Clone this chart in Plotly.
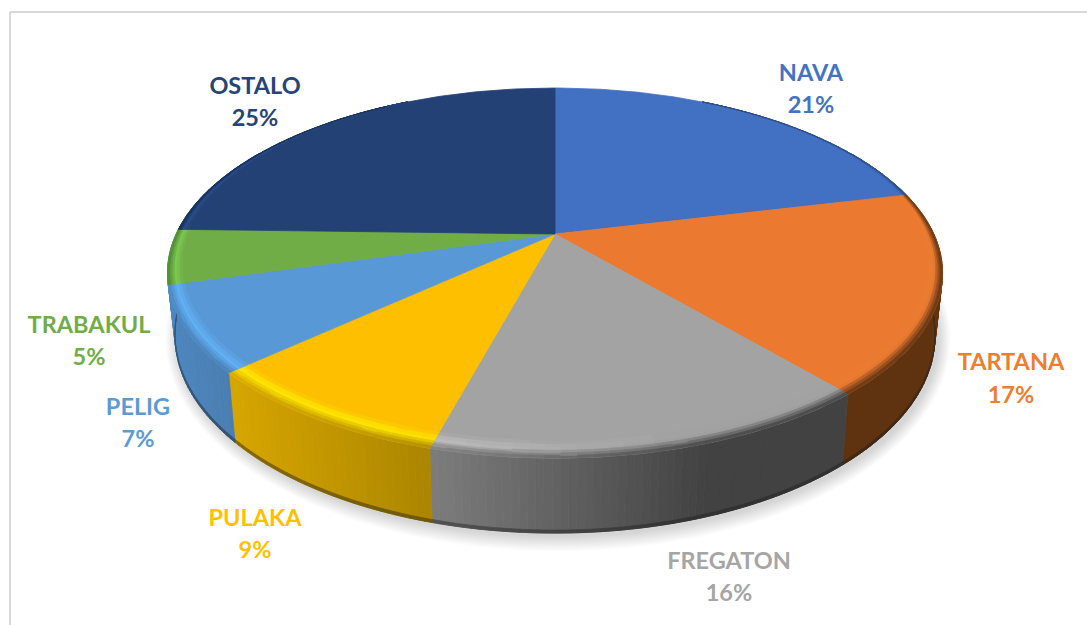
import math
import plotly.graph_objects as go

# ---- data ----
categories = ["NAVA", "TARTANA", "FREGATON", "PULAKA", "PELIG", "TRABAKUL", "OSTALO"]
shares = [21.3, 17.49, 15.5, 9.0, 7.4, 4.8, 24.6]

# ---- styles ----
top_colors = ["#4270c2", "#eb7a30", "#a3a3a3", "#fdbf00", "#5998d6", "#70ad47", "#234175"]
label_colors = ["#4472c4", "#ed7d31", "#a5a5a5", "#ffc000", "#5b9bd5", "#70ad47", "#264478"]
side_left = ["#2a4a80", "#5f3210", "#7c7c7c", "#d6a500", "#4c86be", "#4c86be", "#16305a"]
side_right = ["#2a4a80", "#5f3210", "#424242", "#ab8500", "#4a7db0", "#4c86be", "#16305a"]
rim_sides = {5: "#4f8630"}
highlights = ["#4a7ccf", "#f08a40", "#c4c4c4", "#ffe800", "#62b2f6", "#7ecb52", "#2a4d88"]
label_x = [811, 1011, 729, 255, 138, 89, 255]
name_y = [75, 364, 563, 520, 409, 327, 88]
pct_y = [107, 397, 595, 552, 441, 359, 120]

W, H = 1087, 625
CX, CY = 555, 234
K = 0.211
RX, RY = 378.8, 176.8
EX, EY, ERX, ERY = 555, 273, 387.5, 185     # outline ellipse of the upper face
BX, BY, BRX, BRY = 555, 336, 380, 197       # outline ellipse of the lower face


def proj(theta, s=1.0):
    u, v = s * math.sin(theta), s * math.cos(theta)
    w = 1 + K * v
    return CX + RX * u / w, CY - RY * v / w


def lower(p):
    return BX + (p[0] - EX) * BRX / ERX, BY + (p[1] - EY) * BRY / ERY


def rgb(h):
    return tuple(int(h[i:i + 2], 16) for i in (1, 3, 5))


def mix(a, b, t):
    t = max(0.0, min(1.0, t))
    return tuple(a[i] + (b[i] - a[i]) * t for i in range(3))


def css(c):
    return "#%02x%02x%02x" % tuple(min(255, int(round(x))) for x in c)


def side_color(i, x):
    t = (x - (EX - ERX)) / (2 * ERX * 0.78)
    if i == 3:
        t = (x - 232) / 200
    if i == 2:
        t = (x - 433) / 275
    if i == 4:
        t = (x - 172) / 64
    return mix(rgb(side_left[i]), rgb(side_right[i]), t)


fig = go.Figure()


def add_group(groups):
    for color, polys in groups.items():
        xs, ys = [], []
        for poly in polys:
            xs += [p[0] for p in poly] + [poly[0][0], None]
            ys += [p[1] for p in poly] + [poly[0][1], None]
        fig.add_trace(go.Scatter(x=xs, y=ys, mode="lines", fill="toself", fillcolor=color,
                                 line=dict(color=color, width=0.8), hoverinfo="skip",
                                 showlegend=False))


# soft shadow under the disc
for d in range(1, 15):
    pts = [(BX + 3 + (BRX + d * 0.9) * math.cos(a / 60 * math.pi),
            BY + 3 + (BRY + d * 1.1) * math.sin(a / 60 * math.pi)) for a in range(120)]
    fig.add_trace(go.Scatter(x=[p[0] for p in pts] + [pts[0][0]], y=[p[1] for p in pts] + [pts[0][1]],
                             mode="lines", fill="toself", fillcolor="rgba(0,0,0,0.013)",
                             line=dict(width=0), hoverinfo="skip", showlegend=False))

# slice angle limits from the shares
total = sum(shares)
edges = [0.0]
for v in shares:
    edges.append(edges[-1] + v / total * 2 * math.pi)


def segments(a, b, step=math.radians(2)):
    n = max(1, int(math.ceil((b - a) / step)))
    return [a + (b - a) * j / n for j in range(n + 1)]


# side wall
side_groups, dark_groups = {}, {}
for i in range(len(shares)):
    ang = segments(edges[i], edges[i + 1], math.radians(1))
    for a0, a1 in zip(ang[:-1], ang[1:]):
        if math.cos((a0 + a1) / 2) > 0.5:
            continue
        p0, p1 = proj(a0), proj(a1)
        q0, q1 = lower(p0), lower(p1)
        c = side_color(i, (p0[0] + p1[0]) / 2)
        side_groups.setdefault(css(c), []).append([p0, p1, q1, q0])
        m0 = (q0[0], q0[1] - 3)
        m1 = (q1[0], q1[1] - 3)
        dark_groups.setdefault(css(mix(c, (30, 30, 30), 0.45)), []).append([m0, m1, q1, q0])
add_group(side_groups)
add_group(dark_groups)

# upper face
for i in range(len(shares)):
    ang = segments(edges[i], edges[i + 1], math.radians(1))
    pts = [(CX, CY)] + [proj(a) for a in ang]
    add_group({top_colors[i]: [pts]})


def bevel_width(a):
    return max(0.0, 0.03 - 0.032 * math.cos(a))


# rounded rim
layers = [0, 0.2, 0.4, 0.55, 0.7, 0.85, 1.0]
rim = {}
for i in range(len(shares)):
    base = rgb(top_colors[i])
    hl = rgb(highlights[i])
    ang = segments(edges[i], edges[i + 1])
    for a0, a1 in zip(ang[:-1], ang[1:]):
        mid = (a0 + a1) / 2
        xn = (proj(mid)[0] - EX) / ERX
        h = max(0.0, min(1.0, (0.3 - xn) / 0.75))
        peak = mix(base, hl, h)
        sc = rgb(rim_sides[i]) if i in rim_sides else side_color(i, proj(mid)[0])
        b0, b1 = bevel_width(a0), bevel_width(a1)
        if max(b0, b1) < 0.002:
            continue
        for r0, r1 in zip(layers[:-1], layers[1:]):
            r = (r0 + r1) / 2
            c = mix(base, peak, r / 0.45) if r < 0.45 else mix(peak, sc, (r - 0.45) / 0.55)
            quad = [proj(a0, 1 - b0 * (1 - r0)), proj(a1, 1 - b1 * (1 - r0)),
                    proj(a1, 1 - b1 * (1 - r1)), proj(a0, 1 - b0 * (1 - r1))]
            rim.setdefault(css(tuple(round(x / 3) * 3 for x in c)), []).append(quad)
add_group(rim)

# labels
pct_text = [f"{round(v)}%" for v in shares]
font_family = "Lato"
fig.add_trace(go.Scatter(x=label_x, y=name_y, mode="text", text=categories,
                         textposition="middle center", hoverinfo="skip", showlegend=False,
                         textfont=dict(family=font_family, size=23.5, color=label_colors, weight=700)))
fig.add_trace(go.Scatter(x=label_x, y=pct_y, mode="text", text=pct_text,
                         textposition="middle center", hoverinfo="skip", showlegend=False,
                         textfont=dict(family=font_family, size=23.5, color=label_colors, weight=700)))

frame = dict(type="line", xref="x", yref="y", line=dict(color="#d9d9d9", width=2), layer="below")
fig.update_layout(
    width=W, height=H, margin=dict(l=0, r=0, t=0, b=0),
    paper_bgcolor="white", plot_bgcolor="white", showlegend=False,
    xaxis=dict(range=[0, W], visible=False, fixedrange=True),
    yaxis=dict(range=[H, 0], visible=False, fixedrange=True),
    shapes=[dict(frame, x0=10, y0=12, x1=W, y1=12), dict(frame, x0=10, y0=12, x1=10, y1=H)],
)
fig.write_html("out.html", config=dict(displayModeBar=False),
               post_script="document.body.style.margin='0';document.body.style.overflow='hidden';")
